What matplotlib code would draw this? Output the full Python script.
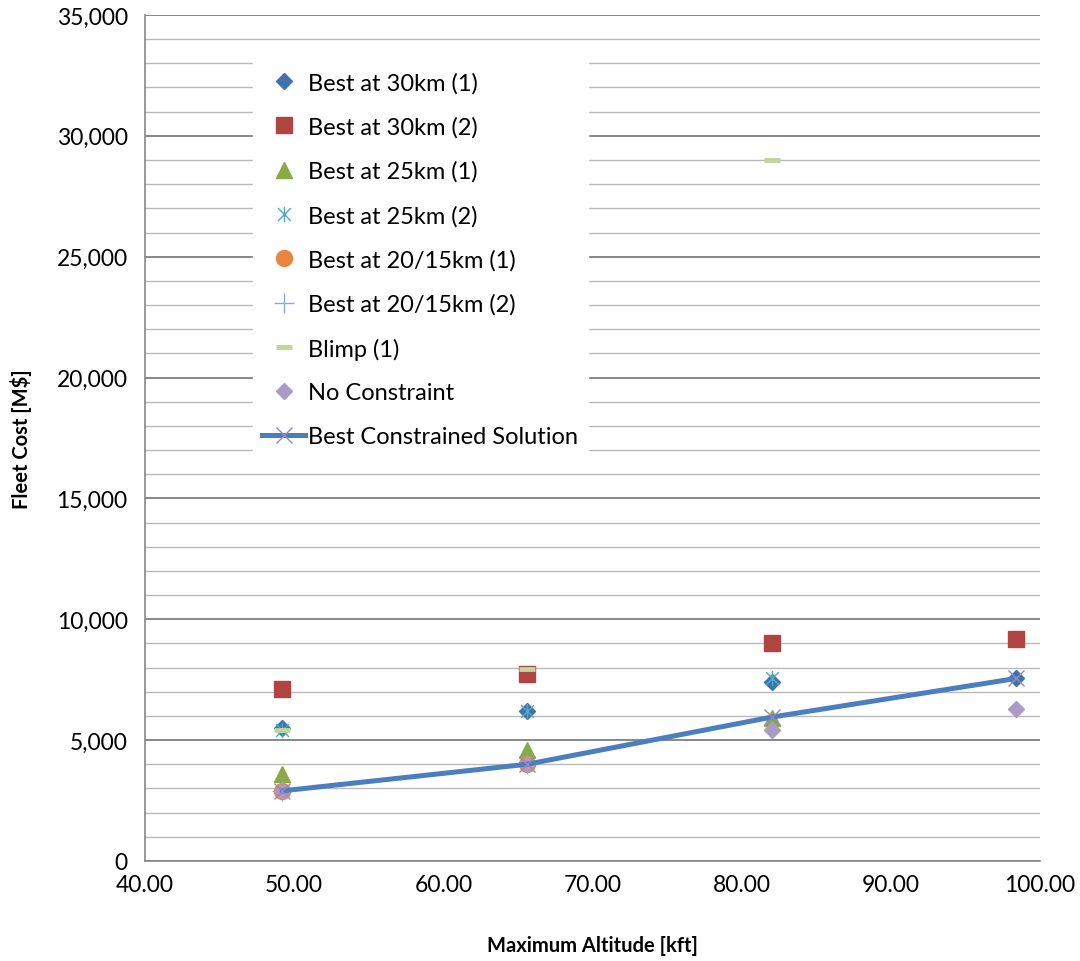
import numpy as np
import matplotlib
matplotlib.use('Agg')
import matplotlib.pyplot as plt
from matplotlib.path import Path
from matplotlib.ticker import MultipleLocator, FuncFormatter

plt.rcParams['font.family'] = ['Lato', 'DejaVu Sans']

# Altitudes (kft) for 15, 20, 25, 30 km
alt = [49.2, 65.6, 82.0, 98.4]

best30_1 = [5500, 6200, 7400, 7550]
best30_2 = [7100, 7750, 9000, 9200]
best25_1 = [3600, 4600, 5900]
best25_2 = [5400, 6200, 7550]
best2015_1 = [2900, 4000]
best2015_2 = [2900, 4000]
blimp_x = [49.2, 65.6, 82.0]
blimp = [5400, 7950, 29000]
no_constraint = [2900, 4000, 5400, 6300]
best_constrained = [2900, 4000, 5950, 7550]

# asterisk marker: X plus vertical stroke
star = Path([(-1, -1), (1, 1), (-1, 1), (1, -1), (0, -1.2), (0, 1.2)],
            [Path.MOVETO, Path.LINETO, Path.MOVETO, Path.LINETO, Path.MOVETO, Path.LINETO])

fig = plt.figure(figsize=(10.8, 9.62), dpi=100)
ax = fig.add_axes([0.1343, 0.104, 0.8287, 0.8794])

ax.plot(alt, best30_1, ls='none', marker='D', ms=8, color='#3F72AF', label='Best at 30km (1)', zorder=3)
ax.plot(alt, best30_2, ls='none', marker='s', ms=11.5, color='#B04441', label='Best at 30km (2)', zorder=3)
ax.plot(alt[:3], best25_1, ls='none', marker='^', ms=11.5, color='#8AAA48', label='Best at 25km (1)', zorder=3)
ax.plot(alt[:3], best25_2, ls='none', marker=star, ms=11, mfc='none', mec='#4BACC6', mew=1,
        label='Best at 25km (2)', zorder=3)
ax.plot(alt[:2], best2015_1, ls='none', marker='o', ms=11.5, color='#E8873F', label='Best at 20/15km (1)', zorder=3)
ax.plot(alt[:2], best2015_2, ls='none', marker='+', ms=14, mew=1, color='#8DA9DB', label='Best at 20/15km (2)', zorder=3)
ax.plot(blimp_x, blimp, ls='none', marker='_', ms=11.5, mew=3.5, color='#C1D69D', label='Blimp (1)', zorder=3)
ax.plot(alt, no_constraint, ls='none', marker='D', ms=8, color='#A99BC6', label='No Constraint', zorder=3)
ax.plot(alt, best_constrained, color='#4A7EBF', lw=3.6, marker='x', ms=12, mec='#9C86BE', mew=1,
        label='Best Constrained Solution', zorder=4)

ax.set_xlim(40, 100)
ax.set_ylim(0, 35000)
ax.xaxis.set_major_locator(MultipleLocator(10))
ax.xaxis.set_major_formatter(FuncFormatter(lambda v, p: '%.2f' % v))
ax.yaxis.set_major_locator(MultipleLocator(5000))
ax.yaxis.set_minor_locator(MultipleLocator(1000))
ax.yaxis.set_major_formatter(FuncFormatter(lambda v, p: '{:,.0f}'.format(v)))

ax.grid(axis='y', which='major', color='#878787', lw=1.4, zorder=0)
ax.grid(axis='y', which='minor', color='#BABABA', lw=1.0, zorder=0)
ax.set_axisbelow(True)

for s in ['top', 'right']:
    ax.spines[s].set_visible(False)
for s in ['left', 'bottom']:
    ax.spines[s].set_color('#878787')
    ax.spines[s].set_linewidth(1.2)

ax.tick_params(axis='both', which='both', length=0, labelsize=16.5, colors='#000000')
ax.tick_params(axis='y', pad=12.5)
ax.tick_params(axis='x', pad=9.5)

ax.set_xlabel('Maximum Altitude [kft]', fontsize=14.5, fontweight='bold', labelpad=29)
ax.set_ylabel('Fleet Cost [M$]', fontsize=14.5, fontweight='bold', labelpad=18)

leg = ax.legend(loc='upper left', bbox_to_anchor=(0.1202, 0.944), borderaxespad=0, numpoints=1,
                fontsize=17, labelspacing=0.965, handlelength=1.82, handletextpad=0.13,
                frameon=True, fancybox=False, edgecolor='white', facecolor='white', framealpha=1)

fig.savefig('out.png', dpi=100)
